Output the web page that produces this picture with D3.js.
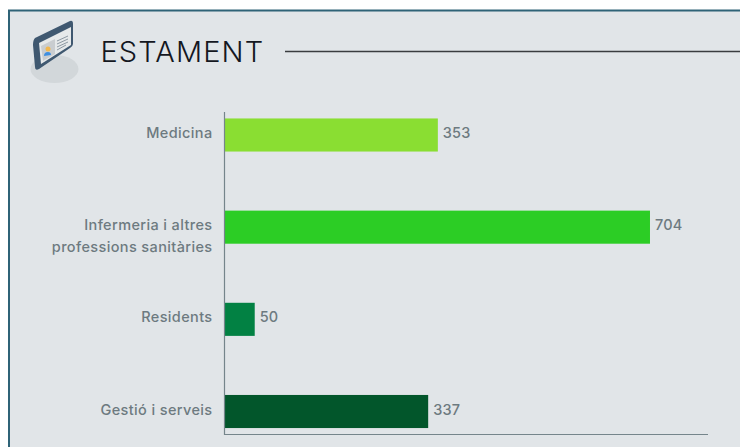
<!DOCTYPE html>
<html><head><meta charset="utf-8">
<script src="https://cdn.jsdelivr.net/npm/d3@7/dist/d3.min.js"></script>
<style>html,body{margin:0;padding:0;background:#fff;overflow:hidden}svg{display:block}text{font-family:Inter,"Open Sans",sans-serif}</style>
</head><body><svg id="c" width="740" height="447"></svg>
<script>
const categories = [["Medicina"],["Infermeria i altres","professions sanitàries"],["Residents"],["Gestió i serveis"]];
const values = [353,704,50,337];
const colors = ["#8ade32","#2ccd25","#028143","#02562b"];
const title = "ESTAMENT";
const svg = d3.select("#c");
svg.append("rect").attr("x",9).attr("y",10.5).attr("width",740).attr("height",450).attr("fill","#e1e5e8").attr("stroke","#2f6377").attr("stroke-width",2);
// icon
const ic = svg.append("g");
ic.append("ellipse").attr("cx",54.5).attr("cy",69).attr("rx",24).attr("ry",14).attr("fill","#d2d7da");
ic.append("path").attr("d","M35 38 L70 21 Q73 20 73 24 L73 44 Q73 46 70 48 L39 69 Q35 71 35 67 L33 45 Q33 40 35 38Z").attr("fill","#3f5870");
ic.append("path").attr("d","M39 43 L71 27 L71 45 L41 64Z").attr("fill","#e6e9ea");
ic.append("path").attr("d","M41 46 L55 39 L55 54 L43 61Z").attr("fill","#c9cdd0");
ic.append("circle").attr("cx",48).attr("cy",49).attr("r",2.5).attr("fill","#f2b84f");
ic.append("path").attr("d","M44 56 Q44 52 48 52 Q51 52 51 55Z").attr("fill","#3f8fe0");
[[57,41,68,36],[57,44,68,39],[57,47,68,42],[57,50,66,45]].forEach(l=>ic.append("line").attr("x1",l[0]).attr("y1",l[1]).attr("x2",l[2]).attr("y2",l[3]).attr("stroke","#8d99a3"));
// title
svg.append("text").attr("x",100.5).attr("y",62).text(title).attr("font-size",29).attr("font-weight",300).attr("letter-spacing",1.1).attr("fill","#14171f");
svg.append("line").attr("x1",285).attr("x2",740).attr("y1",51.5).attr("y2",51.5).attr("stroke","#3a3d3f").attr("stroke-width",1.5);
// chart
const ids = d3.range(values.length);
const x = d3.scaleLinear().domain([0,800]).range([224.5,708]);
const y = d3.scaleBand().domain(ids).range([112,434.5]).paddingInner(0.641).paddingOuter(0.07);
const ink="#6d7a80";
svg.selectAll("rect.bar").data(ids).join("rect").attr("class","bar")
  .attr("x",x(0)).attr("y",i=>y(i)).attr("width",i=>x(values[i])-x(0)).attr("height",y.bandwidth()).attr("fill",i=>colors[i]);
svg.append("path").attr("d",`M${x(0)} 112V434.5H708`).attr("fill","none").attr("stroke","#75858b").attr("stroke-width",1.2);
svg.selectAll("text.val").data(ids).join("text").attr("class","val")
  .attr("x",i=>x(values[i])+5).attr("y",i=>y(i)+y.bandwidth()/2+3).text(i=>values[i])
  .attr("font-size",14.5).attr("font-weight",500).attr("letter-spacing",0.15).attr("fill",ink);
ids.forEach(i=>{
  const ls=categories[i], lh=22;
  ls.forEach((t,j)=>svg.append("text").attr("x",212.5).attr("text-anchor","end")
    .attr("y",y(i)+y.bandwidth()/2+3+j*lh).text(t)
    .attr("font-size",14.5).attr("font-weight",500).attr("letter-spacing",0.37).attr("fill",ink));
});
</script></body></html>
